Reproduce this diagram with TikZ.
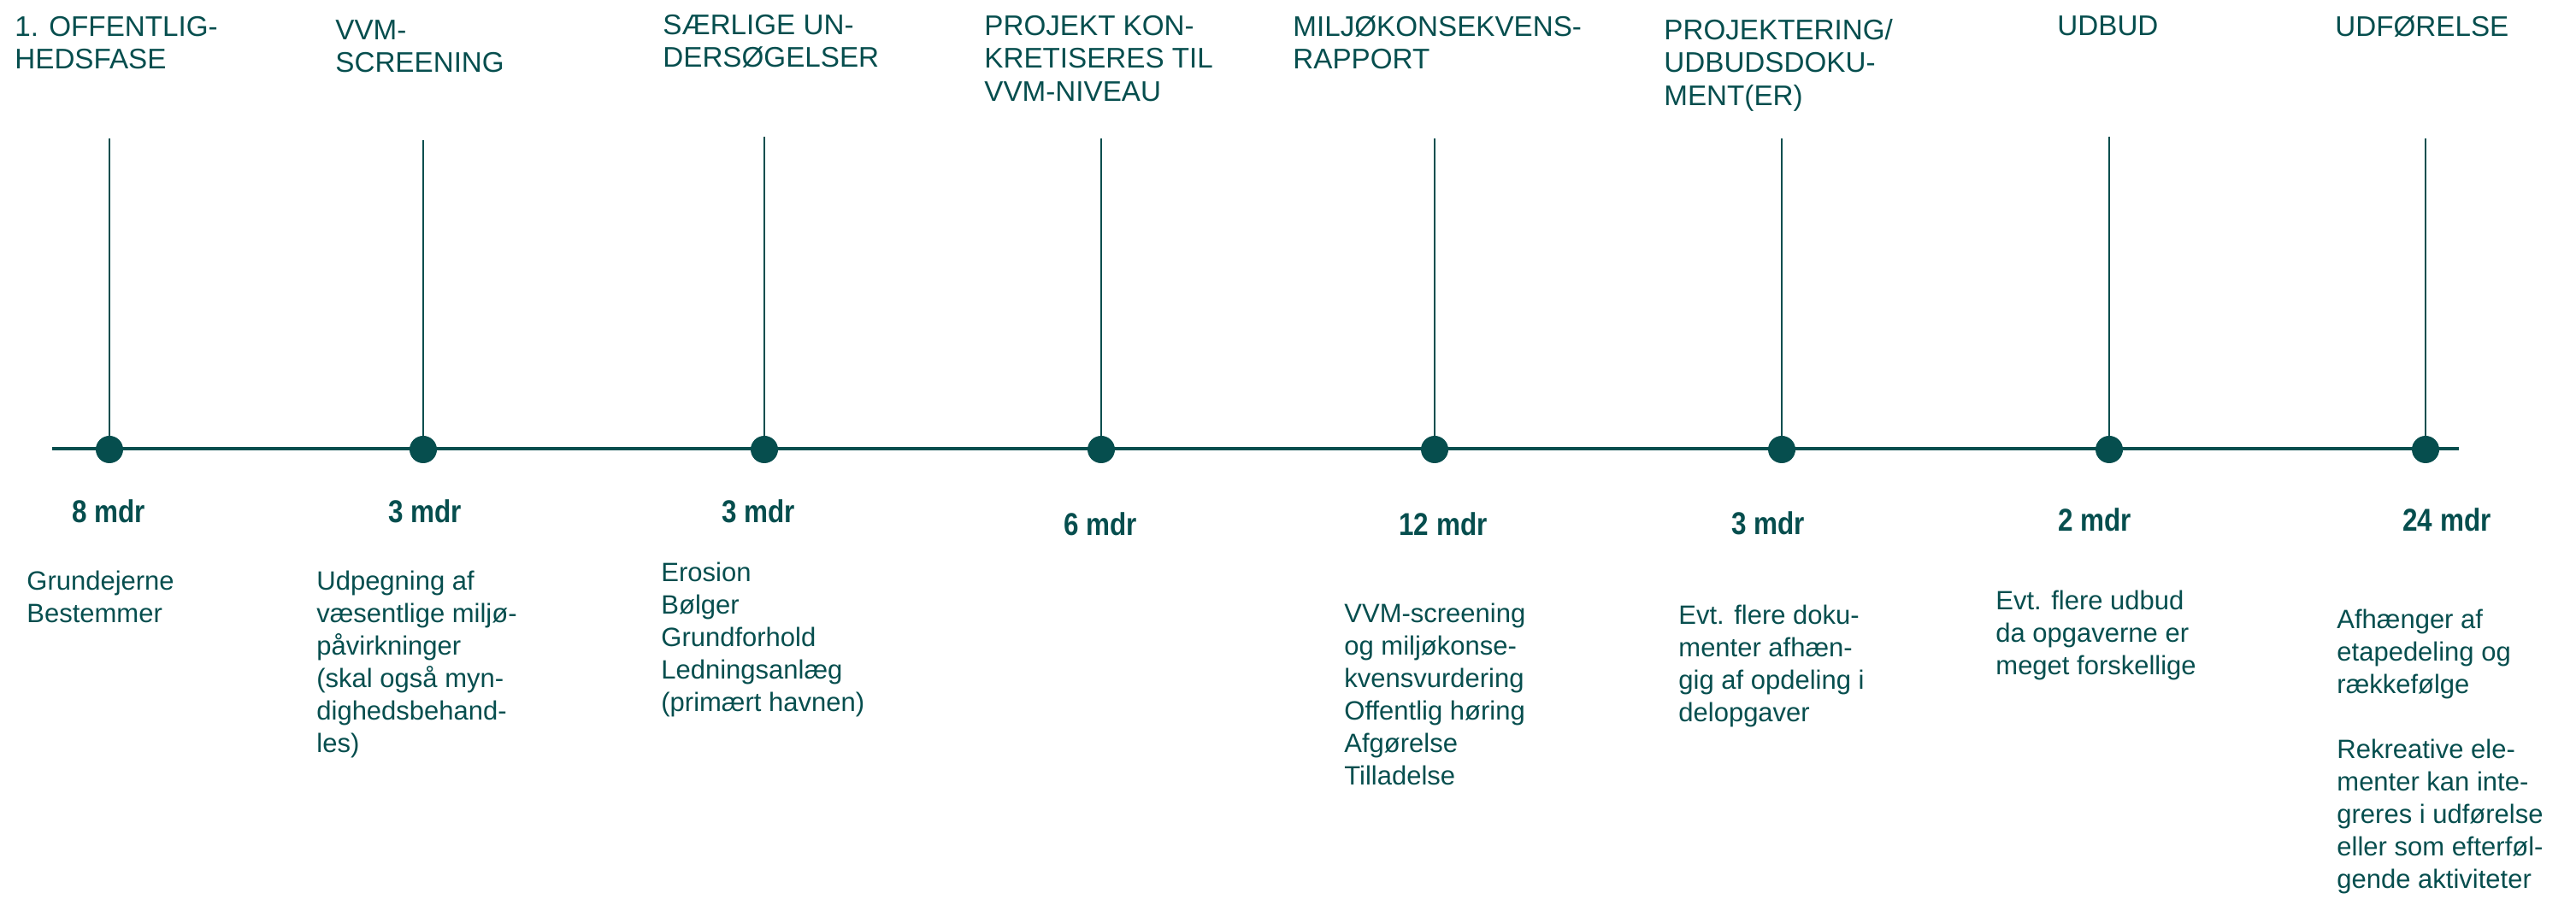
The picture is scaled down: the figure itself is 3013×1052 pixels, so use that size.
\documentclass[tikz,border=0pt]{standalone}
\usepackage{fontspec}
\setmainfont{Liberation Sans}
\newfontfamily\mdrfont[FakeStretch=0.85]{Liberation Sans}
\usetikzlibrary{positioning}
\definecolor{vvmgreen}{HTML}{064E4E}

\begin{document}
\begin{tikzpicture}[
    x=0.5pt, y=-0.5pt,
    dotnode/.style={circle, fill=vvmgreen, inner sep=0pt, minimum size=16pt},
    headnode/.style={anchor=north west, align=left, inner sep=0pt, text=vvmgreen, font=\fontsize{16.6}{19.2}\selectfont},
    timenode/.style={anchor=base, inner sep=0pt, text=vvmgreen, font=\mdrfont\bfseries\fontsize{18.5}{22}\selectfont},
    textnode/.style={anchor=north west, align=left, inner sep=0pt, text=vvmgreen, font=\fontsize{15.5}{19}\selectfont},
    myline/.style={vvmgreen, line width=1.65pt},
    mystem/.style={vvmgreen, line width=1.3pt}
]
\useasboundingbox (0,0) rectangle (3013,1052);

% time axis
\coordinate (L) at (61,525);
\coordinate (R) at (2876,525);
\draw[myline] (L) -- (R);

% milestones on the axis
\node[dotnode] (d1) at (128,526) {};
\node[dotnode] (d2) at (495,526) {};
\node[dotnode] (d3) at (894,526) {};
\node[dotnode] (d4) at (1288,526) {};
\node[dotnode] (d5) at (1678,526) {};
\node[dotnode] (d6) at (2084,526) {};
\node[dotnode] (d7) at (2467,526) {};
\node[dotnode] (d8) at (2837,526) {};

% stems up to the phase titles
\coordinate (s1) at (128,162);
\coordinate (s2) at (495,164);
\coordinate (s3) at (894,160);
\coordinate (s4) at (1288,162);
\coordinate (s5) at (1678,162);
\coordinate (s6) at (2084,162);
\coordinate (s7) at (2467,160);
\coordinate (s8) at (2837,162);
\draw[mystem] (s1) -- (d1);
\draw[mystem] (s2) -- (d2);
\draw[mystem] (s3) -- (d3);
\draw[mystem] (s4) -- (d4);
\draw[mystem] (s5) -- (d5);
\draw[mystem] (s6) -- (d6);
\draw[mystem] (s7) -- (d7);
\draw[mystem] (s8) -- (d8);

% phase titles
\node[headnode] (h1) at (17,19) {1. OFFENTLIG-\\HEDSFASE};
\node[headnode] (h2) at (392,23) {VVM-\\SCREENING};
\node[headnode] (h3) at (775,17) {SÆRLIGE UN-\\DERSØGELSER};
\node[headnode] (h4) at (1151,18) {PROJEKT KON-\\KRETISERES TIL\\VVM-NIVEAU};
\node[headnode] (h5) at (1512,18) {MILJØKONSEKVENS-\\RAPPORT};
\node[headnode] (h6) at (1946,22) {PROJEKTERING/\\UDBUDSDOKU-\\MENT(ER)};
\node[headnode] (h7) at (2406,18) {UDBUD};
\node[headnode] (h8) at (2731,18) {UDFØRELSE};

% durations
\node[timenode] (m1) at (127,612) {8 mdr};
\node[timenode] (m2) at (497,612) {3 mdr};
\node[timenode] (m3) at (887,612) {3 mdr};
\node[timenode] (m4) at (1287,627) {6 mdr};
\node[timenode] (m5) at (1688,627) {12 mdr};
\node[timenode] (m6) at (2068,626) {3 mdr};
\node[timenode] (m7) at (2450,622) {2 mdr};
\node[timenode] (m8) at (2862,622) {24 mdr};

% notes under each phase
\node[textnode] (n1) at (31,668) {Grundejerne\\Bestemmer};
\node[textnode] (n2) at (370,668) {Udpegning af\\væsentlige miljø-\\påvirkninger\\(skal også myn-\\dighedsbehand-\\les)};
\node[textnode] (n3) at (773,658) {Erosion\\Bølger\\Grundforhold\\Ledningsanlæg\\(primært havnen)};
\node[textnode] (n5) at (1572,706) {VVM-screening\\og miljøkonse-\\kvensvurdering\\Offentlig høring\\Afgørelse\\Tilladelse};
\node[textnode] (n6) at (1963,708) {Evt. flere doku-\\menter afhæn-\\gig af opdeling i\\delopgaver};
\node[textnode] (n7) at (2334,691) {Evt. flere udbud\\da opgaverne er\\meget forskellige};
\node[textnode] (n8) at (2733,713) {Afhænger af\\etapedeling og\\rækkefølge\\[19pt]Rekreative ele-\\menter kan inte-\\greres i udførelse\\eller som efterføl-\\gende aktiviteter};
\end{tikzpicture}
\end{document}
